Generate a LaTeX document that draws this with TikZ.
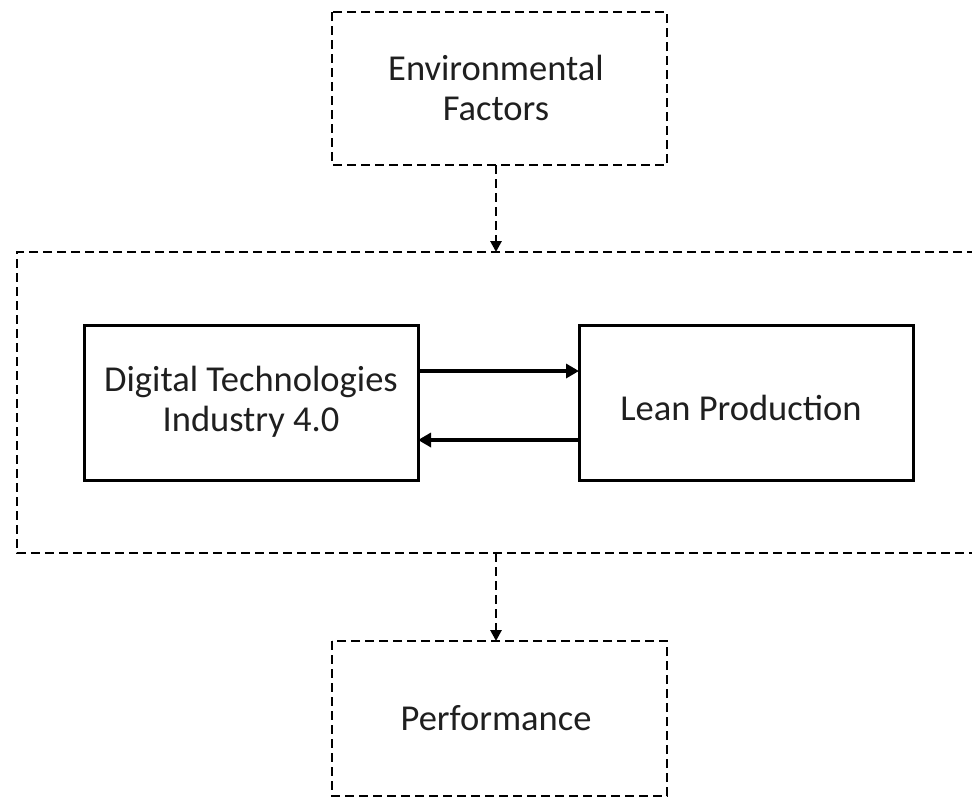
\documentclass[tikz,border=0pt]{standalone}
\usepackage{fontspec}
\setmainfont{Carlito}
\usetikzlibrary{arrows.meta}
\begin{document}
\begin{tikzpicture}[x=1pt,y=-1pt,
  dashbox/.style={draw, line width=2.8pt, dash pattern=on 9pt off 5pt},
  solidbox/.style={draw, line width=3pt},
  lbl/.style={font=\fontsize{36.5}{40}\selectfont, align=center, text=black!88},
  dasharrow/.style={line width=2.8pt, dash pattern=on 9pt off 5pt, -{Triangle[length=11pt,width=11pt]}},
  solidarrow/.style={line width=4.5pt, -{Triangle[length=13pt,width=14pt]}}]
\clip (0,0) rectangle (972,796);
\useasboundingbox (0,0) rectangle (972,796);
% outer frame grouping the two core constructs
\draw[dashbox] (990,252) -- (17,252) -- (17,553) -- (990,553);
\coordinate (frametop) at (496,252);
\coordinate (framebot) at (496,553);
% boxes
\draw[dashbox] (332,12) rectangle (667,165);
\node[lbl] (env) at (496,88) {Environmental\\Factors};
\coordinate (envbot) at (496,165);
\draw[solidbox] (84,325) rectangle (418,480);
\node[lbl] (dig) at (251,402) {Digital Technologies\\Industry 4.0};
\draw[solidbox] (579,325) rectangle (913,480);
\node[lbl] (lean) at (741,408) {Lean Production};
\coordinate (digr1) at (418,371);
\coordinate (digr2) at (418,440);
\coordinate (leanl1) at (579,371);
\coordinate (leanl2) at (579,440);
\draw[dashbox] (332,641) rectangle (667,796);
\node[lbl] (perf) at (496,718) {Performance};
\coordinate (perftop) at (496,641);
% connectors
\draw[dasharrow] (envbot) -- (frametop);
\draw[dasharrow] (framebot) -- (perftop);
\draw[solidarrow] (digr1) -- (leanl1);
\draw[solidarrow] (leanl2) -- (digr2);
\end{tikzpicture}
\end{document}
